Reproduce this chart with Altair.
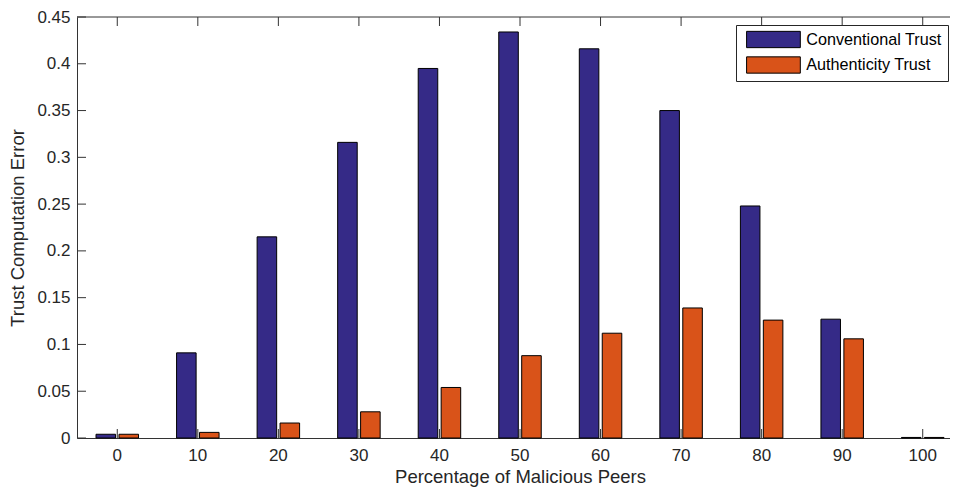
import altair as alt
import pandas as pd

# ---- data ----
percent = [0, 10, 20, 30, 40, 50, 60, 70, 80, 90, 100]
conventional = [0.004, 0.091, 0.215, 0.316, 0.395, 0.434, 0.416, 0.350, 0.248, 0.127, 0.0006]
authenticity = [0.004, 0.006, 0.016, 0.028, 0.054, 0.088, 0.112, 0.139, 0.126, 0.106, 0.0006]
series = ["Conventional Trust", "Authenticity Trust"]
colors = ["#352A87", "#D95319"]
y_ticks = [0, 0.05, 0.1, 0.15, 0.2, 0.25, 0.3, 0.35, 0.4, 0.45]

cats = [str(p) for p in percent]
rows = []
for p, c, a in zip(cats, conventional, authenticity):
    rows.append({"pct": p, "series": series[0], "value": c})
    rows.append({"pct": p, "series": series[1], "value": a})
df = pd.DataFrame(rows)
cat_df = pd.DataFrame({"pct": cats})
ytick_df = pd.DataFrame({"value": y_ticks})
one_df = pd.DataFrame({"a": [0]})

W_VIEW = 873   # visible part (page is 958 wide; right edge cropped as in the reference)
W_FULL = 886   # full x range of the axes
H = 421
FONT = "Liberation Sans"
AX = "#333333"

X = alt.X("pct:O", sort=cats,
          scale=alt.Scale(range=[0, W_FULL], paddingInner=0.4725, paddingOuter=0.23625),
          axis=alt.Axis(title="Percentage of Malicious Peers", labelAngle=0,
                        ticks=False, domain=True, labelPadding=9, titlePadding=4))
Y = alt.Y("value:Q", scale=alt.Scale(domain=[0, 0.45], nice=False, zero=True),
          axis=alt.Axis(title="Trust Computation Error", values=y_ticks, format="~g",
                        ticks=False, domain=True, labelPadding=7, titlePadding=9))

bars = alt.Chart(df).mark_bar(stroke="black", strokeWidth=1).encode(
    x=X,
    xOffset=alt.XOffset("series:N", sort=series, scale=alt.Scale(paddingInner=0.148, paddingOuter=0)),
    y=Y,
    color=alt.Color("series:N", sort=series,
                    scale=alt.Scale(domain=series, range=colors),
                    legend=alt.Legend(title=None, orient="none", legendX=659, legendY=8,
                                      symbolType="M-0.48,-1H6.11V1H-0.48Z", symbolSize=266,
                                      symbolStrokeColor="black", symbolStrokeWidth=1,
                                      symbolOpacity=1, labelOffset=46.8, padding=5.5,
                                      rowPadding=3.5, strokeColor="#262626", fillColor="white",
                                      labelFontSize=16.2, labelFont=FONT, labelColor="#000000")),
)

bottom_ticks = alt.Chart(cat_df).mark_rule(color=AX, strokeWidth=1).encode(
    x=X, y=alt.value(H), y2=alt.value(H - 9))
top_ticks = alt.Chart(cat_df).mark_rule(color=AX, strokeWidth=1).encode(
    x=X, y=alt.value(0), y2=alt.value(9))
left_ticks = alt.Chart(ytick_df).mark_rule(color=AX, strokeWidth=1).encode(
    y=Y, x=alt.value(0), x2=alt.value(9))
right_ticks = alt.Chart(ytick_df).mark_rule(color=AX, strokeWidth=1).encode(
    y=Y, x=alt.value(W_FULL - 9), x2=alt.value(W_FULL))
top_border = alt.Chart(one_df).mark_rule(color=AX, strokeWidth=1).encode(
    x=alt.value(0), x2=alt.value(W_FULL), y=alt.value(0))

chart = alt.layer(bars, bottom_ticks, top_ticks, left_ticks, right_ticks, top_border).properties(
    width=W_VIEW, height=H,
    autosize=alt.AutoSizeParams(type="none"),
    padding={"left": 69, "top": 9, "right": 0, "bottom": 49},
    background="white",
).configure_view(stroke=None).configure_axis(
    labelFont=FONT, labelFontSize=17, labelColor="#262626",
    titleFont=FONT, titleFontSize=18.5, titleFontWeight="normal", titleColor="#262626",
    domainColor=AX, domainWidth=1, grid=False,
)

chart.save("out.html", embed_options={"renderer": "svg", "actions": False})
